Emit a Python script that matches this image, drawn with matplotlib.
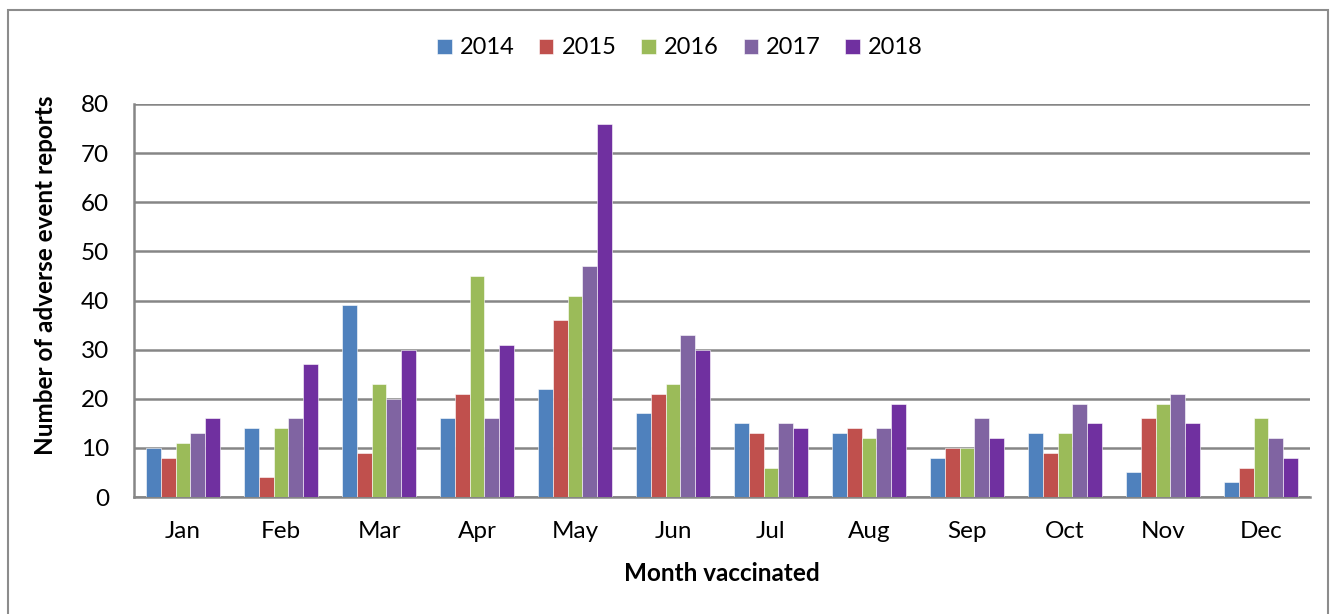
import matplotlib
matplotlib.use("Agg")
import matplotlib.pyplot as plt
import numpy as np
from matplotlib.patches import Rectangle

months = ["Jan", "Feb", "Mar", "Apr", "May", "Jun", "Jul", "Aug", "Sep", "Oct", "Nov", "Dec"]
years = ["2014", "2015", "2016", "2017", "2018"]
v2014 = [10, 14, 39, 16, 22, 17, 15, 13, 8, 13, 5, 3]
v2015 = [8, 4, 9, 21, 36, 21, 13, 14, 10, 9, 16, 6]
v2016 = [11, 14, 23, 45, 41, 23, 6, 12, 10, 13, 19, 16]
v2017 = [13, 16, 20, 16, 47, 33, 15, 14, 16, 19, 21, 12]
v2018 = [16, 27, 30, 31, 76, 30, 14, 19, 12, 15, 15, 8]
series = [v2014, v2015, v2016, v2017, v2018]
colors = ["#4F81BD", "#C0504D", "#9BBB59", "#8064A2", "#7030A0"]
yticks = [0, 10, 20, 30, 40, 50, 60, 70, 80]

plt.rcParams['font.family'] = ['Lato', 'DejaVu Sans']

fig = plt.figure(figsize=(13.3, 6.14), dpi=100)
ax = fig.add_axes([134/1330, 1-497/614, (1310-134)/1330, (497-104)/614])

# outer chart border
fig.patches.append(Rectangle((8/1330, -0.01), (1328-8)/1330, 1-10/614+0.01,
                             transform=fig.transFigure, fill=False,
                             edgecolor="#8C8C8C", linewidth=1.5))

x = np.arange(len(months))
bw = 0.153
for i, (vals, c, lab) in enumerate(zip(series, colors, years)):
    ax.bar(x + (i - 2) * bw, vals, width=bw, color=c, label=lab,
           edgecolor="white", linewidth=0.4, zorder=3)

ax.set_xlim(-0.5, 11.5)
ax.set_ylim(0, 80)
ax.set_yticks(yticks)
ax.set_xticks(x)
ax.set_xticklabels(months)
ax.tick_params(axis='x', length=0, labelsize=17.5, pad=17)
ax.tick_params(axis='y', length=0, labelsize=17.5, pad=18)
ax.grid(axis='y', color="#868686", linewidth=1.8, zorder=0)
for s in ["top", "right"]:
    ax.spines[s].set_visible(False)
for s in ["left", "bottom"]:
    ax.spines[s].set_color("#868686")
    ax.spines[s].set_linewidth(1.8)

ax.set_ylabel("Number of adverse event reports", fontsize=17.5, fontweight='bold')
ax.yaxis.set_label_coords(-0.0655, 0.565)
ax.set_xlabel("Month vaccinated", fontsize=17.5, fontweight='bold')
ax.xaxis.set_label_coords(0.5, -0.165)

leg = fig.legend(loc='center', bbox_to_anchor=(680/1330, 1-48/614), ncol=5, frameon=False,
                 fontsize=17, handlelength=0.6, handleheight=0.6, columnspacing=1.05,
                 handletextpad=0.35)

fig.savefig("out.png", dpi=100)
